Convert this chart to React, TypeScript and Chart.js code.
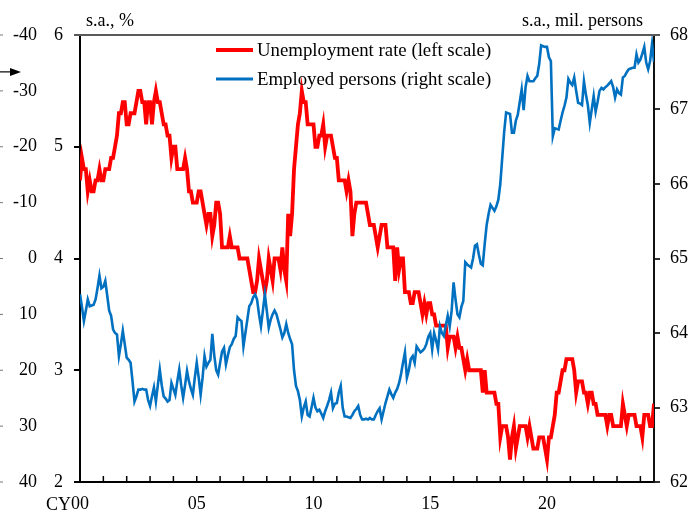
import React, { useEffect, useRef } from "react";
import { Chart, registerables } from "chart.js";

Chart.register(...registerables);

// Unemployment rate (%, s.a.), monthly Jan 2000 - Aug 2024
const U2000 = [4.7, 4.9, 4.8, 4.8, 4.6, 4.7, 4.6, 4.6, 4.7, 4.7, 4.8, 4.7];
const U2001 = [4.7, 4.8, 4.8, 4.8, 4.9, 4.9, 5.0, 5.1, 5.3, 5.3, 5.4, 5.4];
const U2002 = [5.2, 5.2, 5.3, 5.3, 5.3, 5.4, 5.5, 5.5, 5.4, 5.4, 5.2, 5.4];
const U2003 = [5.4, 5.2, 5.4, 5.5, 5.4, 5.4, 5.3, 5.2, 5.2, 5.1, 5.1, 4.9];
const U2004 = [5.0, 5.0, 4.8, 4.8, 4.8, 4.8, 4.9, 4.8, 4.6, 4.6, 4.5, 4.5];
const U2005 = [4.5, 4.6, 4.6, 4.5, 4.4, 4.3, 4.4, 4.4, 4.2, 4.3, 4.5, 4.5];
const U2006 = [4.4, 4.1, 4.1, 4.1, 4.1, 4.2, 4.1, 4.1, 4.1, 4.1, 4.0, 4.0];
const U2007 = [4.0, 4.0, 4.0, 3.9, 3.8, 3.7, 3.7, 3.8, 4.0, 3.9, 3.8, 3.7];
const U2008 = [3.8, 4.0, 3.9, 3.8, 4.0, 4.0, 4.0, 3.9, 4.1, 3.9, 3.8, 4.4];
const U2009 = [4.2, 4.4, 4.8, 5.0, 5.2, 5.3, 5.5, 5.4, 5.4, 5.2, 5.2, 5.2];
const U2010 = [5.2, 5.0, 5.0, 5.1, 5.1, 5.2, 5.0, 5.1, 5.1, 5.1, 5.0, 4.9];
const U2011 = [4.9, 4.7, 4.7, 4.7, 4.7, 4.6, 4.7, 4.6, 4.2, 4.4, 4.5, 4.5];
const U2012 = [4.5, 4.5, 4.5, 4.5, 4.4, 4.3, 4.3, 4.3, 4.2, 4.1, 4.2, 4.3];
const U2013 = [4.3, 4.3, 4.1, 4.1, 4.1, 4.1, 3.8, 4.1, 3.9, 4.0, 4.0, 3.7];
const U2014 = [3.7, 3.7, 3.6, 3.6, 3.7, 3.7, 3.7, 3.6, 3.5, 3.6, 3.5, 3.6];
const U2015 = [3.6, 3.5, 3.5, 3.4, 3.4, 3.4, 3.4, 3.4, 3.4, 3.2, 3.3, 3.3];
const U2016 = [3.3, 3.2, 3.3, 3.2, 3.2, 3.1, 3.0, 3.1, 3.0, 3.0, 3.0, 3.0];
const U2017 = [3.0, 3.0, 3.0, 2.8, 3.0, 2.8, 2.8, 2.8, 2.8, 2.8, 2.7, 2.7];
const U2018 = [2.4, 2.5, 2.5, 2.5, 2.4, 2.2, 2.4, 2.5, 2.3, 2.4, 2.5, 2.5];
const U2019 = [2.5, 2.5, 2.4, 2.5, 2.4, 2.3, 2.3, 2.3, 2.4, 2.4, 2.4, 2.3];
const U2020 = [2.2, 2.4, 2.4, 2.5, 2.6, 2.8, 2.8, 2.9, 3.0, 3.0, 3.1, 3.1];
const U2021 = [3.1, 3.1, 3.0, 2.8, 2.9, 2.9, 2.9, 2.8, 2.8, 2.7, 2.8, 2.8];
const U2022 = [2.7, 2.7, 2.6, 2.6, 2.6, 2.6, 2.6, 2.5, 2.6, 2.6, 2.5, 2.5];
const U2023 = [2.5, 2.5, 2.5, 2.7, 2.6, 2.5, 2.6, 2.6, 2.6, 2.6, 2.5, 2.5];
const U2024 = [2.5, 2.4, 2.6, 2.6, 2.6, 2.5, 2.5, 2.7];

// Employed persons (mil. persons, s.a.), monthly Jan 2000 - Aug 2024
const E2000 = [64.52, 64.35, 64.16, 64.3, 64.45, 64.36, 64.37, 64.38, 64.45, 64.6, 64.77, 64.6];
const E2001 = [64.62, 64.7, 64.5, 64.3, 64.23, 64.05, 64.0, 63.98, 63.69, 63.85, 64.03, 63.85];
const E2002 = [63.67, 63.64, 63.6, 63.35, 63.08, 63.15, 63.24, 63.24, 63.25, 63.24, 63.24, 63.1];
const E2003 = [63.02, 63.15, 63.27, 63.08, 63.3, 63.51, 63.3, 63.15, 63.12, 63.08, 63.1, 63.33];
const E2004 = [63.25, 63.17, 63.35, 63.51, 63.3, 63.13, 63.3, 63.49, 63.35, 63.25, 63.17, 63.4];
const E2005 = [63.6, 63.4, 63.17, 63.4, 63.69, 63.55, 63.6, 63.64, 63.99, 63.7, 63.5, 63.44];
const E2006 = [63.6, 63.75, 63.8, 63.58, 63.7, 63.81, 63.85, 63.92, 63.96, 64.21, 64.18, 64.16];
const E2007 = [63.82, 64.0, 64.18, 64.36, 64.4, 64.48, 64.52, 64.45, 64.25, 64.09, 64.3, 64.52];
const E2008 = [64.3, 64.07, 64.18, 64.25, 64.3, 64.25, 64.15, 64.05, 63.94, 64.0, 64.12, 64.0];
const E2009 = [63.92, 63.85, 63.5, 63.29, 63.22, 63.1, 62.88, 63.0, 63.08, 62.9, 62.88, 63.0];
const E2010 = [63.13, 63.0, 62.95, 62.97, 62.92, 62.86, 62.95, 63.02, 63.1, 63.2, 62.99, 63.05];
const E2011 = [63.06, 63.2, 63.29, 63.0, 62.88, 62.88, 62.87, 62.86, 62.9, 62.95, 62.98, 63.02];
const E2012 = [62.9, 62.84, 62.84, 62.85, 62.84, 62.86, 62.84, 62.84, 62.9, 62.95, 62.99, 62.84];
const E2013 = [62.95, 63.06, 63.15, 63.24, 63.18, 63.13, 63.2, 63.25, 63.33, 63.45, 63.6, 63.74];
const E2014 = [63.4, 63.5, 63.65, 63.69, 63.6, 63.82, 63.78, 63.74, 63.76, 63.79, 63.85, 63.95];
const E2015 = [64.0, 63.78, 64.0, 63.9, 63.78, 64.09, 64.0, 63.96, 64.1, 64.23, 64.09, 64.3];
const E2016 = [64.68, 64.45, 64.25, 64.21, 64.35, 64.43, 64.95, 64.92, 64.9, 64.88, 65.0, 65.17];
const E2017 = [65.19, 65.05, 64.93, 64.91, 65.2, 65.45, 65.6, 65.72, 65.68, 65.64, 65.7, 65.79];
const E2018 = [66.0, 66.35, 66.7, 66.96, 66.95, 66.94, 66.69, 66.69, 66.85, 66.93, 67.1, 67.27];
const E2019 = [66.99, 67.3, 67.45, 67.38, 67.38, 67.38, 67.42, 67.45, 67.61, 67.86, 67.85, 67.84];
const E2020 = [67.84, 67.7, 67.65, 66.64, 66.75, 66.74, 66.73, 66.85, 66.96, 67.05, 67.16, 67.41];
const E2021 = [67.36, 67.33, 67.43, 67.25, 67.09, 67.08, 67.06, 67.38, 67.2, 67.06, 66.82, 67.0];
const E2022 = [67.18, 66.97, 67.1, 67.25, 67.29, 67.27, 67.3, 67.32, 67.35, 67.38, 67.3, 67.16];
const E2023 = [67.27, 67.22, 67.2, 67.43, 67.45, 67.5, 67.54, 67.55, 67.56, 67.56, 67.74, 67.63];
const E2024 = [67.67, 67.75, 67.84, 67.63, 67.54, 67.65, 67.88, 67.64];

const UNEMPLOYMENT = [
  ...U2000, ...U2001, ...U2002, ...U2003, ...U2004, ...U2005, ...U2006, ...U2007,
  ...U2008, ...U2009, ...U2010, ...U2011, ...U2012, ...U2013, ...U2014, ...U2015,
  ...U2016, ...U2017, ...U2018, ...U2019, ...U2020, ...U2021, ...U2022, ...U2023, ...U2024,
];
const EMPLOYED = [
  ...E2000, ...E2001, ...E2002, ...E2003, ...E2004, ...E2005, ...E2006, ...E2007,
  ...E2008, ...E2009, ...E2010, ...E2011, ...E2012, ...E2013, ...E2014, ...E2015,
  ...E2016, ...E2017, ...E2018, ...E2019, ...E2020, ...E2021, ...E2022, ...E2023, ...E2024,
];

const X_LABELS = ["00", "05", "10", "15", "20"];
const X_PREFIX = "CY";
const SERIES_NAMES = ["Unemployment rate (left scale)", "Employed persons (right scale)"];
const LEFT_UNIT = "s.a., %";
const RIGHT_UNIT = "s.a., mil. persons";
const OUTER_ARROW_VALUE = -33.4;

const FONT = '"Liberation Serif", "Times New Roman", serif';

const decoPlugin = {
  id: "deco",
  afterDraw(chart: any) {
    const { ctx, chartArea: a, scales } = chart;
    const xs = scales.x;
    const y3 = scales.y3;
    ctx.save();
    // year tick marks pointing inward
    ctx.strokeStyle = "#000";
    ctx.lineWidth = 1.5;
    xs.ticks.forEach((t: any) => {
      const px = xs.getPixelForValue(t.value);
      ctx.beginPath();
      ctx.moveTo(px, a.bottom);
      ctx.lineTo(px, a.bottom - 6);
      ctx.stroke();
    });
    // top frame line
    ctx.strokeStyle = "#595959";
    ctx.lineWidth = 2;
    ctx.beginPath();
    ctx.moveTo(a.left - 6, a.top);
    ctx.lineTo(a.right + 6, a.top);
    ctx.stroke();
    // outer axis small ticks
    ctx.strokeStyle = "#777";
    ctx.lineWidth = 1;
    y3.ticks.forEach((t: any) => {
      const py = y3.getPixelForValue(t.value);
      ctx.beginPath();
      ctx.moveTo(0, py);
      ctx.lineTo(3, py);
      ctx.stroke();
    });
    // arrow
    const ay = y3.getPixelForValue(OUTER_ARROW_VALUE);
    ctx.strokeStyle = "#000";
    ctx.fillStyle = "#000";
    ctx.lineWidth = 1.2;
    ctx.beginPath();
    ctx.moveTo(0, ay);
    ctx.lineTo(12, ay);
    ctx.stroke();
    ctx.beginPath();
    ctx.moveTo(10, ay - 4);
    ctx.lineTo(21, ay);
    ctx.lineTo(10, ay + 4);
    ctx.closePath();
    ctx.fill();
    // texts
    ctx.fillStyle = "#000";
    ctx.font = `18px ${FONT}`;
    ctx.textBaseline = "alphabetic";
    ctx.textAlign = "left";
    ctx.fillText(LEFT_UNIT, a.left + 6, 26);
    ctx.textAlign = "right";
    ctx.fillText(RIGHT_UNIT, a.right - 11, 26);
    // CY prefix
    const x0 = xs.getPixelForValue(0);
    ctx.textAlign = "right";
    ctx.textBaseline = "alphabetic";
    ctx.fillText(X_PREFIX, x0 - 9, 510);
    // legend
    const rows = [a.top + 15, a.top + 44];
    chart.data.datasets.forEach((ds: any, i: number) => {
      const yy = rows[i];
      ctx.strokeStyle = ds.borderColor;
      ctx.lineWidth = i === 0 ? 4 : 3;
      ctx.beginPath();
      ctx.moveTo(a.left + 136, yy);
      ctx.lineTo(a.left + 173, yy);
      ctx.stroke();
      ctx.fillStyle = "#000";
      ctx.textAlign = "left";
      ctx.font = `18.8px ${FONT}`;
      ctx.fillText(ds.label, a.left + 177, yy + 6);
    });
    ctx.restore();
  },
};

export default function App() {
  const ref = useRef<HTMLCanvasElement | null>(null);
  useEffect(() => {
    document.body.style.margin = "0";
    const canvas = ref.current!;
    const n = UNEMPLOYMENT.length;
    const tickFont = { family: FONT, size: 18 };
    const chart = new Chart(canvas, {
      type: "line",
      data: {
        datasets: [
          {
            label: SERIES_NAMES[0],
            data: UNEMPLOYMENT.map((v, i) => ({ x: i, y: v })),
            borderColor: "#FF0000",
            borderWidth: 3.8,
            pointRadius: 0,
            yAxisID: "y",
            order: 1,
          },
          {
            label: SERIES_NAMES[1],
            data: EMPLOYED.map((v, i) => ({ x: i, y: v })),
            borderColor: "#0070C0",
            borderWidth: 2.6,
            pointRadius: 0,
            yAxisID: "y2",
            order: 0,
          },
        ],
      },
      options: {
        animation: false,
        responsive: false,
        devicePixelRatio: 1,
        layout: { padding: { top: 35, left: 0, right: 0, bottom: 0 } },
        plugins: { legend: { display: false }, tooltip: { enabled: false } },
        elements: { line: { tension: 0 } },
        scales: {
          x: {
            type: "linear",
            min: 0,
            max: n - 1,
            grid: { display: false, drawTicks: false },
            border: { display: true, color: "#000", width: 2 },
            afterBuildTicks: (s: any) => {
              const t = [];
              for (let v = 0; v <= n - 1; v += 12) t.push({ value: v });
              s.ticks = t;
            },
            afterFit: (s: any) => {
              s.height = 32;
            },
            ticks: {
              autoSkip: false,
              maxRotation: 0,
              padding: 11,
              color: "#000",
              font: tickFont,
              callback: (v: any) => (v % 60 === 0 ? X_LABELS[v / 60] : ""),
            },
          },
          y: {
            position: "left",
            weight: 0,
            min: 2,
            max: 6,
            grid: { display: true, drawOnChartArea: false, drawTicks: true, tickLength: 6, color: "#000", lineWidth: 2 },
            border: { display: true, color: "#000", width: 2 },
            afterFit: (s: any) => {
              s.width = 40;
            },
            ticks: { stepSize: 1, padding: 11, color: "#000", font: tickFont },
          },
          y3: {
            position: "left",
            weight: 1,
            min: -40,
            max: 40,
            reverse: true,
            grid: { display: false, drawTicks: false },
            border: { display: false },
            afterFit: (s: any) => {
              s.width = 40;
            },
            ticks: { stepSize: 10, padding: 3, color: "#000", font: tickFont },
          },
          y2: {
            position: "right",
            min: 62,
            max: 68,
            grid: { display: true, drawOnChartArea: false, drawTicks: true, tickLength: 6, color: "#333", lineWidth: 2 },
            border: { display: true, color: "#111", width: 2 },
            afterFit: (s: any) => {
              s.width = 35;
            },
            ticks: { stepSize: 1, padding: 10, color: "#000", font: tickFont },
          },
        },
      },
      plugins: [decoPlugin],
    } as any);
    return () => chart.destroy();
  }, []);
  return (
    <div style={{ position: "absolute", left: 0, top: 0, width: 689, height: 514, background: "#fff" }}>
      <canvas ref={ref} width={689} height={514} style={{ width: 689, height: 514, display: "block" }} />
    </div>
  );
}
